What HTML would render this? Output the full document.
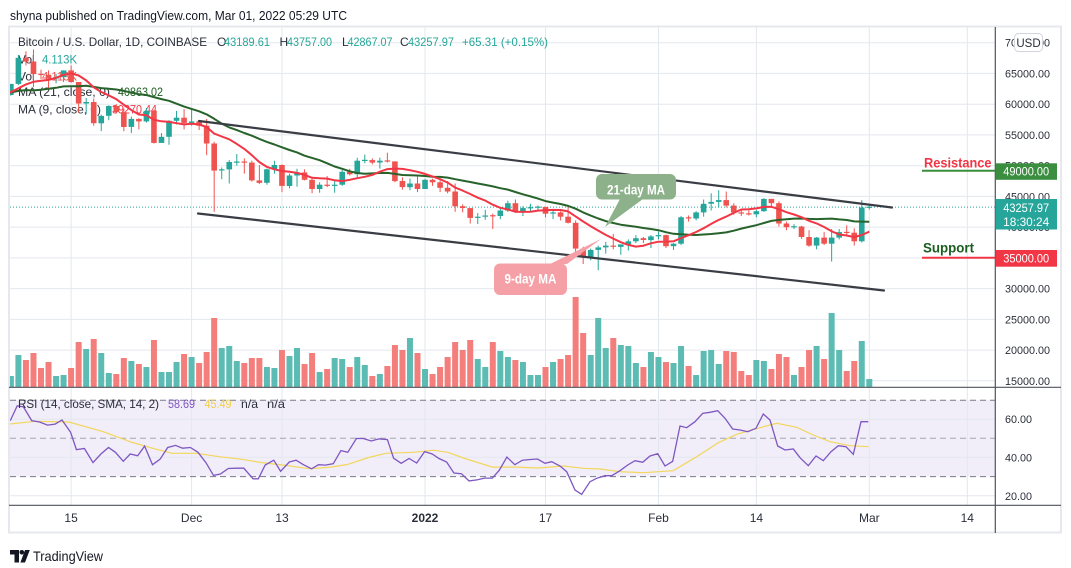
<!DOCTYPE html>
<html><head><meta charset="utf-8">
<style>
html,body{margin:0;padding:0;background:#fff;width:1071px;height:568px;overflow:hidden}
svg{display:block;font-family:"Liberation Sans",sans-serif}
</style></head><body>
<svg width="1071" height="568" viewBox="0 0 1071 568" xmlns="http://www.w3.org/2000/svg">
<defs>
<clipPath id="cp"><rect x="10" y="27" width="985" height="360"/></clipPath>
<clipPath id="cr"><rect x="10" y="388" width="985" height="117"/></clipPath>
</defs>
<rect x="0" y="0" width="1071" height="568" fill="#fff"/>
<text x="10" y="20" font-size="13" fill="#131722" textLength="337" lengthAdjust="spacingAndGlyphs">shyna published on TradingView.com, Mar 01, 2022 05:29 UTC</text>
<rect x="9" y="26.5" width="1052" height="506" fill="#fff" stroke="#e6e8ee" stroke-width="2"/>

<!-- price grid -->
<g stroke="#e3e8ee" stroke-width="1">
<line x1="10" x2="995" y1="42.7" y2="42.7"/><line x1="10" x2="995" y1="73.4" y2="73.4"/>
<line x1="10" x2="995" y1="104.2" y2="104.2"/><line x1="10" x2="995" y1="134.9" y2="134.9"/>
<line x1="10" x2="995" y1="165.7" y2="165.7"/><line x1="10" x2="995" y1="196.4" y2="196.4"/>
<line x1="10" x2="995" y1="227.1" y2="227.1"/><line x1="10" x2="995" y1="257.9" y2="257.9"/>
<line x1="10" x2="995" y1="288.6" y2="288.6"/><line x1="10" x2="995" y1="319.4" y2="319.4"/>
<line x1="10" x2="995" y1="350.1" y2="350.1"/><line x1="10" x2="995" y1="380.8" y2="380.8"/>
</g>
<!-- rsi band -->
<rect x="10" y="400" width="985" height="76.6" fill="#f1edf9"/>
<g stroke="#e3e8ee" stroke-width="1">
<line x1="10" x2="995" y1="419.2" y2="419.2"/><line x1="10" x2="995" y1="457.4" y2="457.4"/><line x1="10" x2="995" y1="495.8" y2="495.8"/>
</g>
<!-- vertical grid -->
<g stroke="#e3e8ee" stroke-width="1">
<line x1="71.1" x2="71.1" y1="27" y2="505"/><line x1="191.6" x2="191.6" y1="27" y2="505"/>
<line x1="282" x2="282" y1="27" y2="505"/><line x1="425" x2="425" y1="27" y2="505"/>
<line x1="545.5" x2="545.5" y1="27" y2="505"/><line x1="658.5" x2="658.5" y1="27" y2="505"/>
<line x1="756.4" x2="756.4" y1="27" y2="505"/><line x1="869.3" x2="869.3" y1="27" y2="505"/>
<line x1="967.3" x2="967.3" y1="27" y2="505"/>
</g>
<g stroke-width="1" stroke-dasharray="6,4">
<line x1="10" x2="995" y1="400.3" y2="400.3" stroke="#787b86"/>
<line x1="10" x2="995" y1="438.3" y2="438.3" stroke="#a3a6af"/>
<line x1="10" x2="995" y1="476.6" y2="476.6" stroke="#787b86"/>
</g>

<!-- legend -->
<g font-size="12" fill="#2a2e39">
<text x="18" y="46" textLength="189" lengthAdjust="spacingAndGlyphs">Bitcoin / U.S. Dollar, 1D, COINBASE</text>
<text x="217" y="46">O</text><text x="224" y="46" fill="#26a69a" textLength="46" lengthAdjust="spacingAndGlyphs">43189.61</text>
<text x="279.5" y="46">H</text><text x="287" y="46" fill="#26a69a" textLength="45" lengthAdjust="spacingAndGlyphs">43757.00</text>
<text x="342" y="46">L</text><text x="347.5" y="46" fill="#26a69a" textLength="45" lengthAdjust="spacingAndGlyphs">42867.07</text>
<text x="400" y="46">C</text><text x="408" y="46" fill="#26a69a" textLength="46" lengthAdjust="spacingAndGlyphs">43257.97</text>
<text x="462" y="46" fill="#26a69a" textLength="86" lengthAdjust="spacingAndGlyphs">+65.31 (+0.15%)</text>
<text x="18" y="63.5">Vol</text><text x="42" y="63.5" fill="#26a69a" textLength="35" lengthAdjust="spacingAndGlyphs">4.113K</text>
<text x="18" y="80.5">Vol</text><text x="42" y="80.5" fill="#ef5350" textLength="35" lengthAdjust="spacingAndGlyphs">4.113K</text>
<text x="18" y="96" textLength="92" lengthAdjust="spacingAndGlyphs">MA (21, close, 0)</text><text x="118" y="96" fill="#1b5e20" textLength="45" lengthAdjust="spacingAndGlyphs">40863.02</text>
<text x="18" y="113.5" textLength="83" lengthAdjust="spacingAndGlyphs">MA (9, close, 0)</text><text x="112" y="113.5" fill="#f23645" textLength="45" lengthAdjust="spacingAndGlyphs">39270.44</text>
</g>

<g clip-path="url(#cp)">
<g id="vol"></g>
<line x1="10" x2="995" y1="207.1" y2="207.1" stroke="#26a69a" stroke-width="1" stroke-dasharray="1,2"/>
<g id="cdl"></g>
<g id="ma"></g>
<line x1="199" y1="121" x2="892" y2="207.5" stroke="#3a3d44" stroke-width="2.2" stroke-linecap="round"/>
<line x1="198" y1="213.5" x2="884" y2="290.5" stroke="#3a3d44" stroke-width="2.2" stroke-linecap="round"/>
</g>

<!-- callouts -->
<rect x="596" y="174" width="80" height="25.5" rx="6" fill="#8db28b"/>
<polygon points="620,199 643,199 605,227" fill="#8db28b"/>
<text x="636" y="194.5" text-anchor="middle" font-size="13.5" font-weight="bold" fill="#fff" textLength="58" lengthAdjust="spacingAndGlyphs">21-day MA</text>
<rect x="494" y="263.5" width="73" height="31.5" rx="6" fill="#f5a0a7"/>
<polygon points="550,264 567,264 601,239" fill="#f5a0a7"/>
<text x="530.5" y="283.5" text-anchor="middle" font-size="13.5" font-weight="bold" fill="#fff" textLength="52" lengthAdjust="spacingAndGlyphs">9-day MA</text>

<!-- RSI -->
<g clip-path="url(#cr)">
<polyline fill="none" stroke="#f2d75c" stroke-width="1.2" points="10.3,424 34.4,421.3 68.9,422 103.3,431.7 130.9,442 155,448.9 172.2,453.3 196.3,453.3 220.4,456.8 241,459.2 261.7,462.6 285.8,465.4 309.9,468.8 330.6,467.1 347.8,464.4 368.5,457.5 385.7,453.3 413.2,452.3 433.9,450.2 447.7,452.3 464.9,458.5 492.4,467.1 516.5,467.1 538.9,468 563.3,466 583.3,468.3 600,469 620,471.7 643.3,472.7 673.3,470.7 696.7,456.7 718.3,442.7 736.7,434.3 760,427.7 776.7,423.3 796.7,427.3 813.3,435 830,441.7 850,445.7 868.3,446.7"/>
<polyline fill="none" stroke="#7e57c2" stroke-width="1.3" points="10.3,420.6 17.2,405.8 23.4,406.9 31.7,420.6 39.6,422 47.5,425.1 55.1,424.1 62,420 70.6,432.3 76.4,449.6 84.4,448.5 93,462.6 100.9,454 108.5,447.5 115.4,452.3 123.3,461.3 130.2,454 137.7,455.8 144.6,446.1 152.5,464.7 160.1,459.2 167.7,447.5 175.6,445.4 182.5,448.2 190.4,447.5 198,452.3 205.9,462.6 213.5,475.4 220.4,474 228.3,468.5 236.6,468.2 243.8,468.2 253.1,478.8 258.3,478.8 265.2,465 273.8,460.2 280.6,471.3 289.3,462 296.1,460.2 303,464.4 311.6,468.8 318.5,464.7 325.4,465.1 333.3,463.7 340.9,450.6 347.8,452.3 356.4,438.5 363.3,438.5 371.2,441 378.8,438.9 387.4,439.6 393.6,458.2 401.2,463.3 409.1,458.5 416.7,463 424.6,451.6 432.2,454 439,458.5 446.6,462 453.9,473 461.4,473.7 469,480.9 476.9,479.9 484.8,478.1 492.4,478.1 499.3,470.2 506.9,457.1 514.8,464.7 522.4,460.2 530.3,459.5 537.5,459 545,463.3 551.7,461.7 560,466 566.7,471.7 575,490 581.7,494.3 590,481.7 596.7,478.3 605,475.7 611.7,475.7 620,470.7 627.7,465 635,460.7 642.7,462.3 650,456 657.7,453.7 665,466 672.7,461.3 680,426 686.7,427.7 695,421.7 702.7,413.3 710,412.3 717.7,410.7 725,418.3 732.7,429 740,430 747.7,431.7 756,428.3 763.3,414 770,420 777.7,446 785,450 793.3,449 800,457.7 808.3,465.7 816,456 823.3,460.7 831,451.7 838.3,445.7 846,446.7 853.3,454.3 861,421.7 868.3,421.7"/>
</g>
<g font-size="12" fill="#2a2e39">
<text x="18" y="408" textLength="141" lengthAdjust="spacingAndGlyphs">RSI (14, close, SMA, 14, 2)</text>
<text x="168" y="408" fill="#7e57c2" textLength="27" lengthAdjust="spacingAndGlyphs">58.69</text>
<text x="204.5" y="408" fill="#f2d04a" textLength="27" lengthAdjust="spacingAndGlyphs">45.49</text>
<text x="241" y="408" textLength="17" lengthAdjust="spacingAndGlyphs">n/a</text>
<text x="267" y="408" textLength="18" lengthAdjust="spacingAndGlyphs">n/a</text>
</g>

<!-- pane borders -->
<line x1="9" x2="1061" y1="387.3" y2="387.3" stroke="#50535e" stroke-width="1.2"/>
<line x1="9" x2="1061" y1="505.3" y2="505.3" stroke="#50535e" stroke-width="1.2"/>
<line x1="995.3" x2="995.3" y1="27" y2="533" stroke="#50535e" stroke-width="1.2"/>

<!-- price axis labels -->
<g font-size="11" fill="#2a2e39">
<text x="1005" y="46.7" textLength="45" lengthAdjust="spacingAndGlyphs">70000.00</text>
<text x="1005" y="77.4" textLength="45" lengthAdjust="spacingAndGlyphs">65000.00</text>
<text x="1005" y="108.2" textLength="45" lengthAdjust="spacingAndGlyphs">60000.00</text>
<text x="1005" y="138.9" textLength="45" lengthAdjust="spacingAndGlyphs">55000.00</text>
<text x="1005" y="169.7" textLength="45" lengthAdjust="spacingAndGlyphs">50000.00</text>
<text x="1005" y="200.4" textLength="45" lengthAdjust="spacingAndGlyphs">45000.00</text>
<text x="1005" y="231.1" textLength="45" lengthAdjust="spacingAndGlyphs">40000.00</text>
<text x="1005" y="292.6" textLength="45" lengthAdjust="spacingAndGlyphs">30000.00</text>
<text x="1005" y="323.4" textLength="45" lengthAdjust="spacingAndGlyphs">25000.00</text>
<text x="1005" y="354.1" textLength="45" lengthAdjust="spacingAndGlyphs">20000.00</text>
<text x="1005" y="384.8" textLength="45" lengthAdjust="spacingAndGlyphs">15000.00</text>
<text x="1005" y="423.2" textLength="27" lengthAdjust="spacingAndGlyphs">60.00</text>
<text x="1005" y="461.4" textLength="27" lengthAdjust="spacingAndGlyphs">40.00</text>
<text x="1005" y="499.8" textLength="27" lengthAdjust="spacingAndGlyphs">20.00</text>
</g>
<rect x="1014.5" y="33.5" width="28" height="18" rx="4" fill="#fff" stroke="#d1d4dc"/>
<text x="1028.5" y="47" text-anchor="middle" font-size="11.5" fill="#2a2e39">USD</text>

<!-- resistance / support -->
<text x="924" y="167.5" font-size="14" font-weight="bold" fill="#f23645" textLength="67.5" lengthAdjust="spacingAndGlyphs">Resistance</text>
<line x1="922" x2="995" y1="170.8" y2="170.8" stroke="#388e3c" stroke-width="2"/>
<rect x="995.5" y="163.3" width="61.5" height="16.5" fill="#3b8e3f"/>
<text x="1026.2" y="175.6" text-anchor="middle" font-size="11.5" fill="#fff" textLength="46" lengthAdjust="spacingAndGlyphs">49000.00</text>
<text x="923" y="252.5" font-size="14" font-weight="bold" fill="#1b5e20" textLength="51" lengthAdjust="spacingAndGlyphs">Support</text>
<line x1="922" x2="995" y1="257.7" y2="257.7" stroke="#f23645" stroke-width="2"/>
<rect x="995.5" y="250" width="61.5" height="16.7" fill="#f23645"/>
<text x="1026.2" y="262.5" text-anchor="middle" font-size="11.5" fill="#fff" textLength="46" lengthAdjust="spacingAndGlyphs">35000.00</text>
<rect x="995.5" y="199" width="61.5" height="30.5" fill="#26a69a"/>
<text x="1026.2" y="211.8" text-anchor="middle" font-size="11.5" fill="#fff" textLength="46" lengthAdjust="spacingAndGlyphs">43257.97</text>
<text x="1026.2" y="225.8" text-anchor="middle" font-size="11.5" fill="#fff" textLength="46" lengthAdjust="spacingAndGlyphs">18:30:24</text>

<!-- time axis -->
<g font-size="12" fill="#2a2e39" text-anchor="middle">
<text x="71.1" y="522">15</text><text x="191.6" y="522">Dec</text><text x="282" y="522">13</text>
<text x="425" y="522" font-weight="bold">2022</text><text x="545.5" y="522">17</text>
<text x="658.5" y="522">Feb</text><text x="756.4" y="522">14</text><text x="869.3" y="522">Mar</text><text x="967.3" y="522">14</text>
</g>

<!-- logo -->
<g fill="#131722">
<path d="M10 550h9v12.5h-4.5v-8H10z"/>
<circle cx="21.8" cy="552.3" r="2.3"/>
<path d="M25 550h4.8l-4.8 12.5h-4.6z"/>
</g>
<text x="33" y="561" font-size="14" fill="#131722" textLength="70" lengthAdjust="spacingAndGlyphs">TradingView</text>
</svg>
<script>
(function(){
var D=[
[61500,63300,61400,63300],[63300,68000,63100,67550],[67550,68600,66300,66950],[66950,68900,62800,64900],[64900,65600,64100,64800],[64800,65500,62300,64150],[64150,64900,63400,64400],[64400,65500,63600,65500],[65500,66300,63500,63600],[63600,63600,58600,60100],[60100,61000,58400,60350],[60350,60900,56500,56900],[56900,58300,55600,58100],[58100,59800,57400,59700],[59700,60000,58500,58700],[58700,59300,55600,56300],[56300,58000,55300,57600],[57600,57700,55900,57200],[57200,59400,57000,58900],[58900,59100,53600,53700],[53700,55300,53700,54700],[54700,57400,53400,57300],[57300,58900,56700,57800],[57800,59200,55900,56950],
[56950,59100,56500,57200],[57200,57400,55800,56500],[56500,57600,51700,53600],[53600,53900,42500,49200],[49200,49700,47800,49400],[49400,50900,47100,50600],[50500,51900,50000,50650],[50650,51200,48700,50500],[50500,50800,47400,47600],[47600,50100,47000,47200],[47200,49500,46900,49400],[49400,50800,48700,50100],[50100,50200,45700,46700],[46700,48700,46300,48400],[48400,49500,46600,48900],[48900,49400,47600,47700],[47700,47900,45500,46200],[46200,47300,45600,46900],[46900,48300,46500,46700],[46700,47500,45600,46900],[46900,49300,46700,49000],[49000,49500,48400,48600],[48600,51300,48100,50800],[50800,51800,50400,50900],[50900,51200,50200,50500],[50500,51300,49500,50800],[50800,52100,50500,50700],[50700,50700,47300,47500],[47500,48100,46100,46500],[46500,47900,46000,47100],[47100,48500,45700,46200],
[46200,47900,46200,47700],[47700,47900,46700,47300],[47300,47600,45700,46400],[46400,47500,45500,45800],[45800,47100,42500,43400],[43400,43700,42400,43100],[43100,43100,40600,41500],[41500,42300,40500,41700],[41700,42800,41200,41900],[41900,42200,39700,41800],[41800,43100,41300,42700],[42700,44300,42500,43900],[43900,44500,42300,42600],[42600,43400,41800,43100],[43100,43800,42600,43200],[43200,43500,42600,43300],[43300,43300,41600,42200],[42200,42700,41300,42400],[42400,42600,41100,41700],[41700,43500,40600,40700],[40700,41100,35500,36500],[36500,36800,34000,35100],[35100,36500,34600,36300],[36300,37000,33000,36700],[36700,37600,35700,37000],[37000,38900,36400,36800],[36800,37200,35500,37200],[37200,38000,36200,37700],[37700,38700,37400,38200],[38200,38400,37400,37900],[37900,38700,36600,38500],
[38500,39300,38000,38700],[38700,38800,36600,36900],[36900,37400,36300,37300],[37300,41800,37100,41600],[41600,41900,40900,41400],[41400,42600,41100,42400],[42400,44500,41700,43800],[43800,45500,42700,44100],[44100,46000,43200,44400],[44400,45800,43200,43500],[43500,43900,42000,42400],[42400,43000,41800,42200],[42200,42700,41900,42100],[42100,42800,41600,42600],[42600,44700,42500,44600],[44600,44600,43300,43900],[43900,44200,40100,40600],[40600,40900,39500,40000],[40000,40500,39700,40100],[40100,40200,38100,38400],[38400,39500,36800,37000],[37000,38400,36400,38300],[38300,39200,37100,37300],[37300,39700,34400,38300],[38300,39700,38000,39200],[39200,40300,38600,39100],[39100,39800,37000,37700],[37700,44400,37500,43190],
[43190,43757,42867,43258]];
var V=[376,355,360,353,368,362,376,375,368,342,349,339,353,373,374,358,361,364,367,340,372,372,362,354,357,363,352,318,348,346,361,363,358,358,367,368,350,356,348,364,353,372,369,358,359,367,357,365,376,374,366,345,350,338,353,369,374,367,357,342,350,340,359,367,342,351,357,360,362,375,375,367,362,359,355,297,333,355,318,348,338,345,346,363,367,352,357,362,363,346,366,375,351,350,364,351,352,371,375,360,361,369,354,357,375,367,350,346,359,313,350,371,361,341,379];
var pre=[61500,62000,64300,66000,62200,60700,61300,60900,63100,60300,58500,60600,62300,61900,61300,61000,63300,62900,61400,61000,61500];
var X0=869.3,DX=7.53,N=D.length;
function py(p){return 42.7+(70000-p)*0.006148;}
function xi(i){return X0-(N-1-i)*DX;}
var v='',c='',m='';
for(var i=0;i<N;i++){
 var d=D[i],x=xi(i),up=d[3]>=d[0];
 v+='<rect x="'+(x-3).toFixed(2)+'" y="'+V[i]+'" width="6" height="'+(387.3-V[i]).toFixed(1)+'" fill="'+(up?'#5cbcb3':'#f37e7c')+'"/>';
 var col=up?'#26a69a':'#ef5350';
 c+='<line x1="'+x.toFixed(2)+'" x2="'+x.toFixed(2)+'" y1="'+py(d[1]).toFixed(1)+'" y2="'+py(d[2]).toFixed(1)+'" stroke="'+col+'" stroke-width="1"/>';
 var t=py(Math.max(d[0],d[3])),b=py(Math.min(d[0],d[3]));
 if(b-t<1.2){var mid=(t+b)/2;t=mid-0.6;b=mid+0.6;}
 c+='<rect x="'+(x-2.8).toFixed(2)+'" y="'+t.toFixed(1)+'" width="5.6" height="'+(b-t).toFixed(1)+'" fill="'+col+'"/>';
}
var cl=pre.concat(D.map(function(d){return d[3];}));
var T=cl.length;
function ma(n){var pts=[];for(var j=pre.length-1;j<T;j++){var s=0;for(var k=j-n+1;k<=j;k++)s+=cl[k];var x=X0-(T-1-j)*DX;pts.push(x.toFixed(2)+','+py(s/n).toFixed(1));}return pts.join(' ');}
m+='<polyline fill="none" stroke="#27632a" stroke-width="2" stroke-linejoin="round" points="'+ma(21)+'"/>';
m+='<polyline fill="none" stroke="#f23645" stroke-width="2" stroke-linejoin="round" points="'+ma(9)+'"/>';
document.getElementById('vol').innerHTML=v;
document.getElementById('cdl').innerHTML=c;
document.getElementById('ma').innerHTML=m;
})();
</script>
</body></html>
